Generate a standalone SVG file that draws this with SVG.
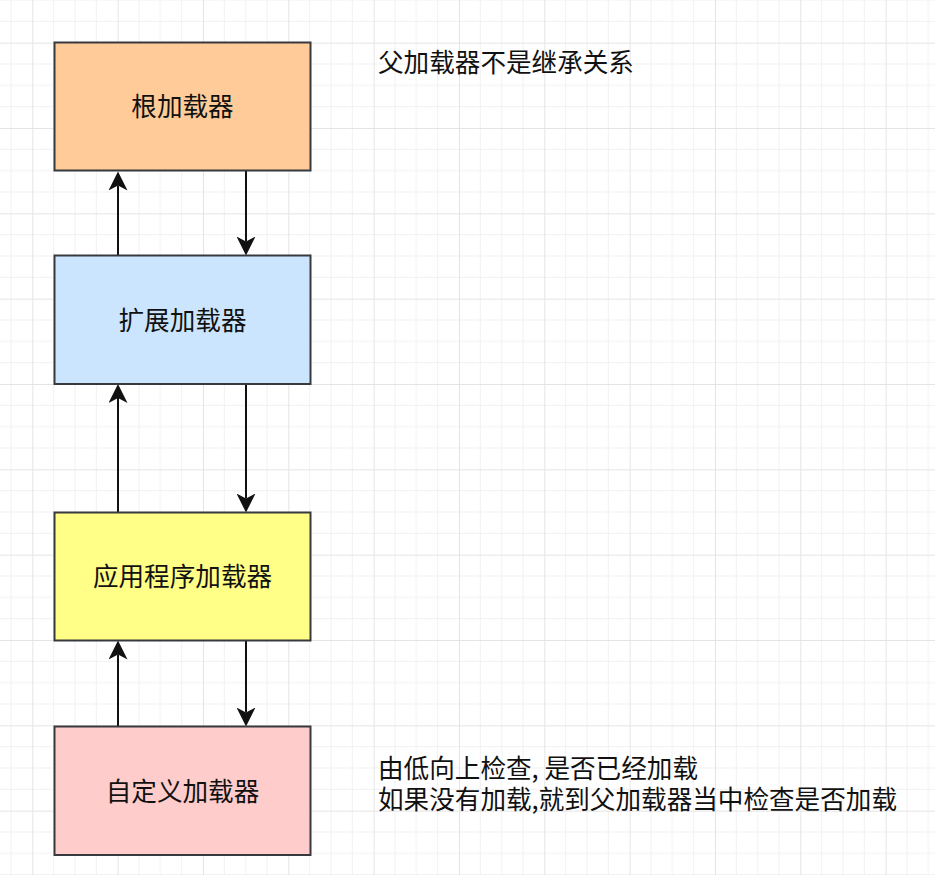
<svg xmlns="http://www.w3.org/2000/svg" width="935" height="875" viewBox="0 0 935 875">
  <style>
    .box { stroke: #36393d; stroke-width: 2; }
    .lbl { font-family: "Noto Sans CJK SC", "Noto Sans", sans-serif; font-size: 25.6px; fill: #111; }
    .mid { text-anchor: middle; }
    .edge { stroke: #111; stroke-width: 2; fill: none; marker-end: url(#arrow); }
  </style>
  <defs>
    <pattern id="grid" patternUnits="userSpaceOnUse" x="32.33" y="42.67" width="85.333" height="85.333">
      <g stroke="#f1f1f1" stroke-width="1" fill="none">
        <path d="M21.333 0V85.333M42.667 0V85.333M64 0V85.333M0 21.333H85.333M0 42.667H85.333M0 64H85.333"/>
      </g>
      <path d="M0.5 0V85.333M0 0.5H85.333" stroke="#e4e4e4" stroke-width="1" fill="none"/>
    </pattern>
    <marker id="arrow" markerUnits="userSpaceOnUse" viewBox="0 0 19 19" markerWidth="19" markerHeight="19" refX="5" refY="9.5" orient="auto">
      <path d="M19 9.5L0 0L5 9.5L0 19Z" fill="#111"/>
    </marker>
  </defs>
  <rect width="935" height="875" fill="#ffffff"/>
  <rect width="935" height="875" fill="url(#grid)"/>

  <g id="connectors">
    <path class="edge" d="M118 255.5V185.5"/>
    <path class="edge" d="M246 170.5V241.5"/>
    <path class="edge" d="M118 512.5V398"/>
    <path class="edge" d="M246 384V498.5"/>
    <path class="edge" d="M118 726.5V654.5"/>
    <path class="edge" d="M246 640.5V712.5"/>
  </g>

  <g id="node-root">
    <rect class="box" x="54.5" y="42.5" width="256" height="128" fill="#ffcc99"/>
    <text class="lbl mid" x="182.5" y="116.2">根加载器</text>
  </g>
  <g id="node-ext">
    <rect class="box" x="54.5" y="255.5" width="256" height="128.5" fill="#cce5ff"/>
    <text class="lbl mid" x="182.5" y="329.5">扩展加载器</text>
  </g>
  <g id="node-app">
    <rect class="box" x="54.5" y="512.5" width="256" height="128" fill="#ffff88"/>
    <text class="lbl mid" x="182.5" y="586.2">应用程序加载器</text>
  </g>
  <g id="node-custom">
    <rect class="box" x="54.5" y="726.5" width="256" height="128.5" fill="#ffcccc"/>
    <text class="lbl mid" x="182.5" y="800.5">自定义加载器</text>
  </g>

  <g id="note-top">
    <text class="lbl" x="378" y="71.5">父加载器不是继承关系</text>
  </g>
  <g id="note-bottom">
    <text class="lbl" x="378" y="778">由低向上检查, 是否已经加载</text>
    <text class="lbl" x="378" y="808.5">如果没有加载,就到父加载器当中检查是否加载</text>
  </g>
</svg>
